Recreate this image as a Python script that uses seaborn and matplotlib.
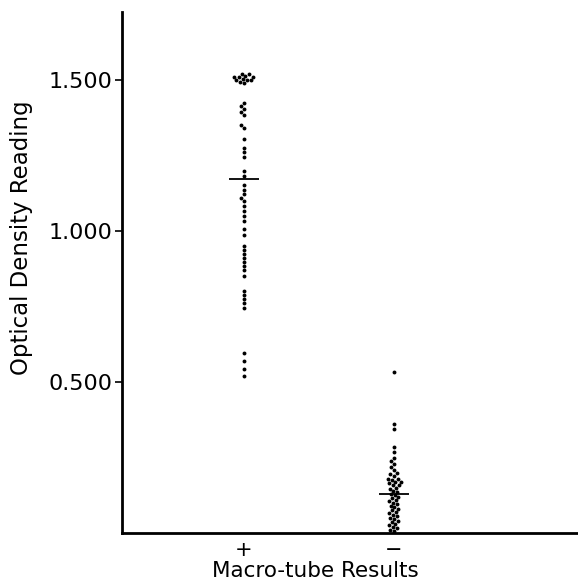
import matplotlib
matplotlib.use("Agg")
import matplotlib.pyplot as plt
import seaborn as sns
import pandas as pd

categories = ["+", "\u2212"]

pos_values = [1.52, 1.52, 1.515, 1.51, 1.51, 1.505, 1.50, 1.50, 1.50, 1.495, 1.49, 1.51,
              1.427, 1.417, 1.407, 1.397, 1.387,
              1.351, 1.341, 1.305, 1.275, 1.262, 1.248,
              1.199, 1.185, 1.152, 1.136, 1.123, 1.109,
              1.099, 1.083, 1.066, 1.050, 1.033, 1.007, 0.987,
              0.950, 0.937, 0.924, 0.911, 0.897, 0.884, 0.871, 0.851,
              0.801, 0.788, 0.775, 0.762, 0.745,
              0.596, 0.570, 0.543, 0.520]

neg_values = [0.533, 0.360, 0.345, 0.285, 0.270,
              0.250, 0.240, 0.230, 0.220, 0.210, 0.200, 0.195, 0.190,
              0.180, 0.178, 0.175, 0.170, 0.168, 0.165, 0.160, 0.158,
              0.150, 0.145, 0.140, 0.135, 0.130, 0.125, 0.120, 0.115,
              0.110, 0.105, 0.100, 0.095, 0.090, 0.085, 0.080, 0.075,
              0.070, 0.065, 0.060, 0.055, 0.050, 0.045, 0.040, 0.035,
              0.030, 0.025, 0.020, 0.015, 0.010, 0.005]

group_means = [1.172, 0.129]

y_ticks = [0.5, 1.0, 1.5]
y_tick_labels = ["0.500", "1.000", "1.500"]

df = pd.DataFrame({
    "group": [categories[0]] * len(pos_values) + [categories[1]] * len(neg_values),
    "od": pos_values + neg_values,
})

sns.set_theme(style="ticks")
plt.rcParams["font.family"] = ["DejaVu Sans"]
plt.rcParams["text.color"] = "black"
plt.rcParams["axes.labelcolor"] = "black"
plt.rcParams["xtick.color"] = "black"
plt.rcParams["ytick.color"] = "black"

fig = plt.figure(figsize=(5.78, 5.85), dpi=100)
ax = fig.add_axes([122 / 578, 52 / 585, 1 - 122 / 578, (533 - 12) / 585])

sns.swarmplot(data=df, x="group", y="od", order=categories, color="black",
              size=2.8, linewidth=0, ax=ax, warn_thresh=1.0)

for i, m in enumerate(group_means):
    ax.hlines(m, i - 0.1, i + 0.1, color="black", linewidth=1.3)

ax.set_xlim(-0.813, 2.227)
ax.set_ylim(0, 1.727)
ax.set_yticks(y_ticks)
ax.set_yticklabels(y_tick_labels, fontsize=16)
ax.set_xticks([0, 1])
ax.set_xticklabels(categories, fontsize=15)
ax.tick_params(axis="x", length=0, pad=5)
ax.tick_params(axis="y", length=5, width=1.2, direction="out", pad=2)

for s in ["top", "right"]:
    ax.spines[s].set_visible(False)
for s in ["left", "bottom"]:
    ax.spines[s].set_linewidth(2)
    ax.spines[s].set_color("black")

ax.set_xlabel("Macro-tube Results", fontsize=15.5)
ax.xaxis.set_label_coords((315 - 122) / 456, (533 - 561) / 521)
ax.set_ylabel("Optical Density Reading", fontsize=16.5)
ax.yaxis.set_label_coords((33 - 122) / 456, (533 - 238) / 521)

fig.savefig("out.png", dpi=100)
